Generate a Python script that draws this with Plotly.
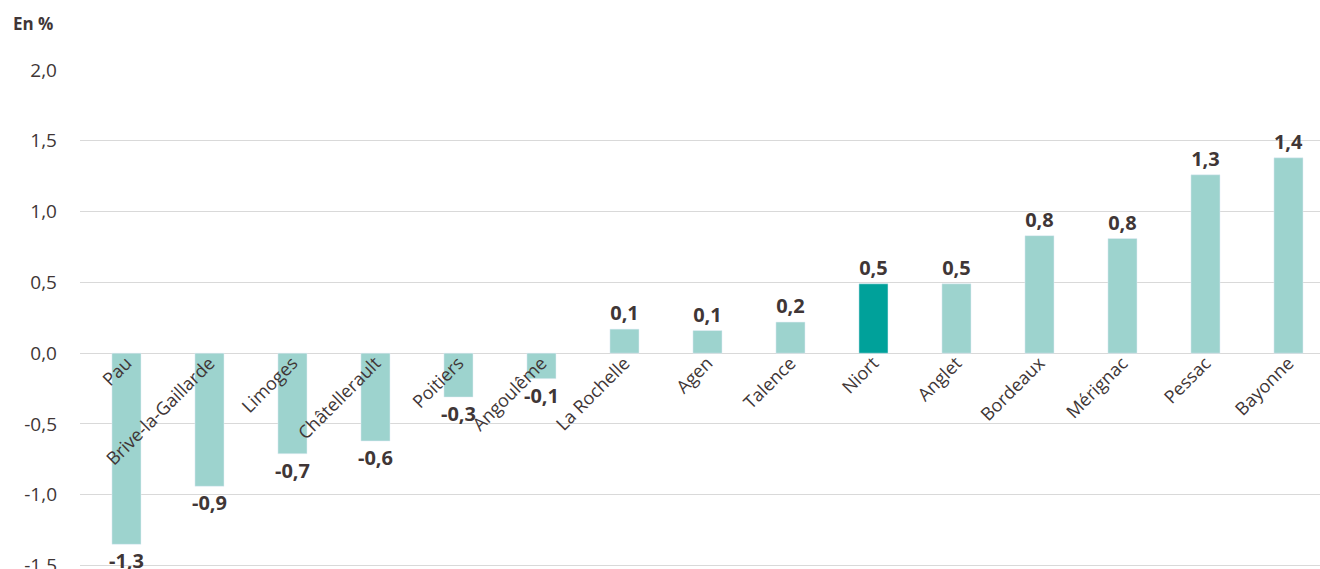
import plotly.graph_objects as go

categories = ["Pau", "Brive-la-Gaillarde", "Limoges", "Châtellerault", "Poitiers",
              "Angoulême", "La Rochelle", "Agen", "Talence", "Niort", "Anglet",
              "Bordeaux", "Mérignac", "Pessac", "Bayonne"]
values = [-1.35, -0.94, -0.71, -0.62, -0.31, -0.18, 0.17, 0.16, 0.22, 0.49, 0.49,
          0.83, 0.81, 1.26, 1.38]
value_labels = ["-1,3", "-0,9", "-0,7", "-0,6", "-0,3", "-0,1", "0,1", "0,1", "0,2",
                "0,5", "0,5", "0,8", "0,8", "1,3", "1,4"]
highlight = "Niort"
y_tickvals = [-1.5, -1.0, -0.5, 0.0, 0.5, 1.0, 1.5, 2.0]
y_ticktext = ["-1,5", "-1,0", "-0,5", "0,0", "0,5", "1,0", "1,5", "2,0"]

BAR = "#9DD3CE"
HI = "#00A19A"
TXT = "#403636"
FONT = "Open Sans"

colors = [HI if c == highlight else BAR for c in categories]

fig = go.Figure(go.Bar(
    x=categories, y=values, marker_color=colors, width=0.35,
    text=value_labels, textposition="outside", cliponaxis=False,
    constraintext="none",
    textfont=dict(family=FONT, size=20, color=TXT, weight="bold"),
    hoverinfo="skip",
))

ymin, ymax = -1.51, 2.0
fig.update_layout(
    width=1320, height=569,
    margin=dict(l=80, r=0, t=70, b=2),
    plot_bgcolor="white", paper_bgcolor="white",
    showlegend=False,
    font=dict(family=FONT, color=TXT),
)
fig.update_yaxes(
    range=[ymin, ymax], tickvals=y_tickvals, ticktext=y_ticktext,
    showgrid=True, gridcolor="#D9D9D9", gridwidth=1.3, zeroline=False,
    showline=False, ticks="", ticklabelstandoff=22, ticklabeloverflow="allow",
    automargin=False,
    tickfont=dict(family=FONT, size=19, color=TXT),
)
fig.update_xaxes(
    range=[-0.56, 14.38], anchor="free", position=(0 - ymin) / (ymax - ymin),
    showgrid=False, showline=False, zeroline=False, ticks="",
    tickangle=-45, tickfont=dict(family=FONT, size=18, color=TXT),
    ticklabelstandoff=-5, automargin=False,
)
fig.add_annotation(
    text="<b>En %</b>", xref="paper", yref="paper", x=-0.056, y=1.0,
    xanchor="left", yanchor="bottom", yshift=33, showarrow=False,
    font=dict(family=FONT, size=17, color=TXT),
)
fig.write_html("out.html", config={"displayModeBar": False},
               post_script="document.body.style.margin='0';")
